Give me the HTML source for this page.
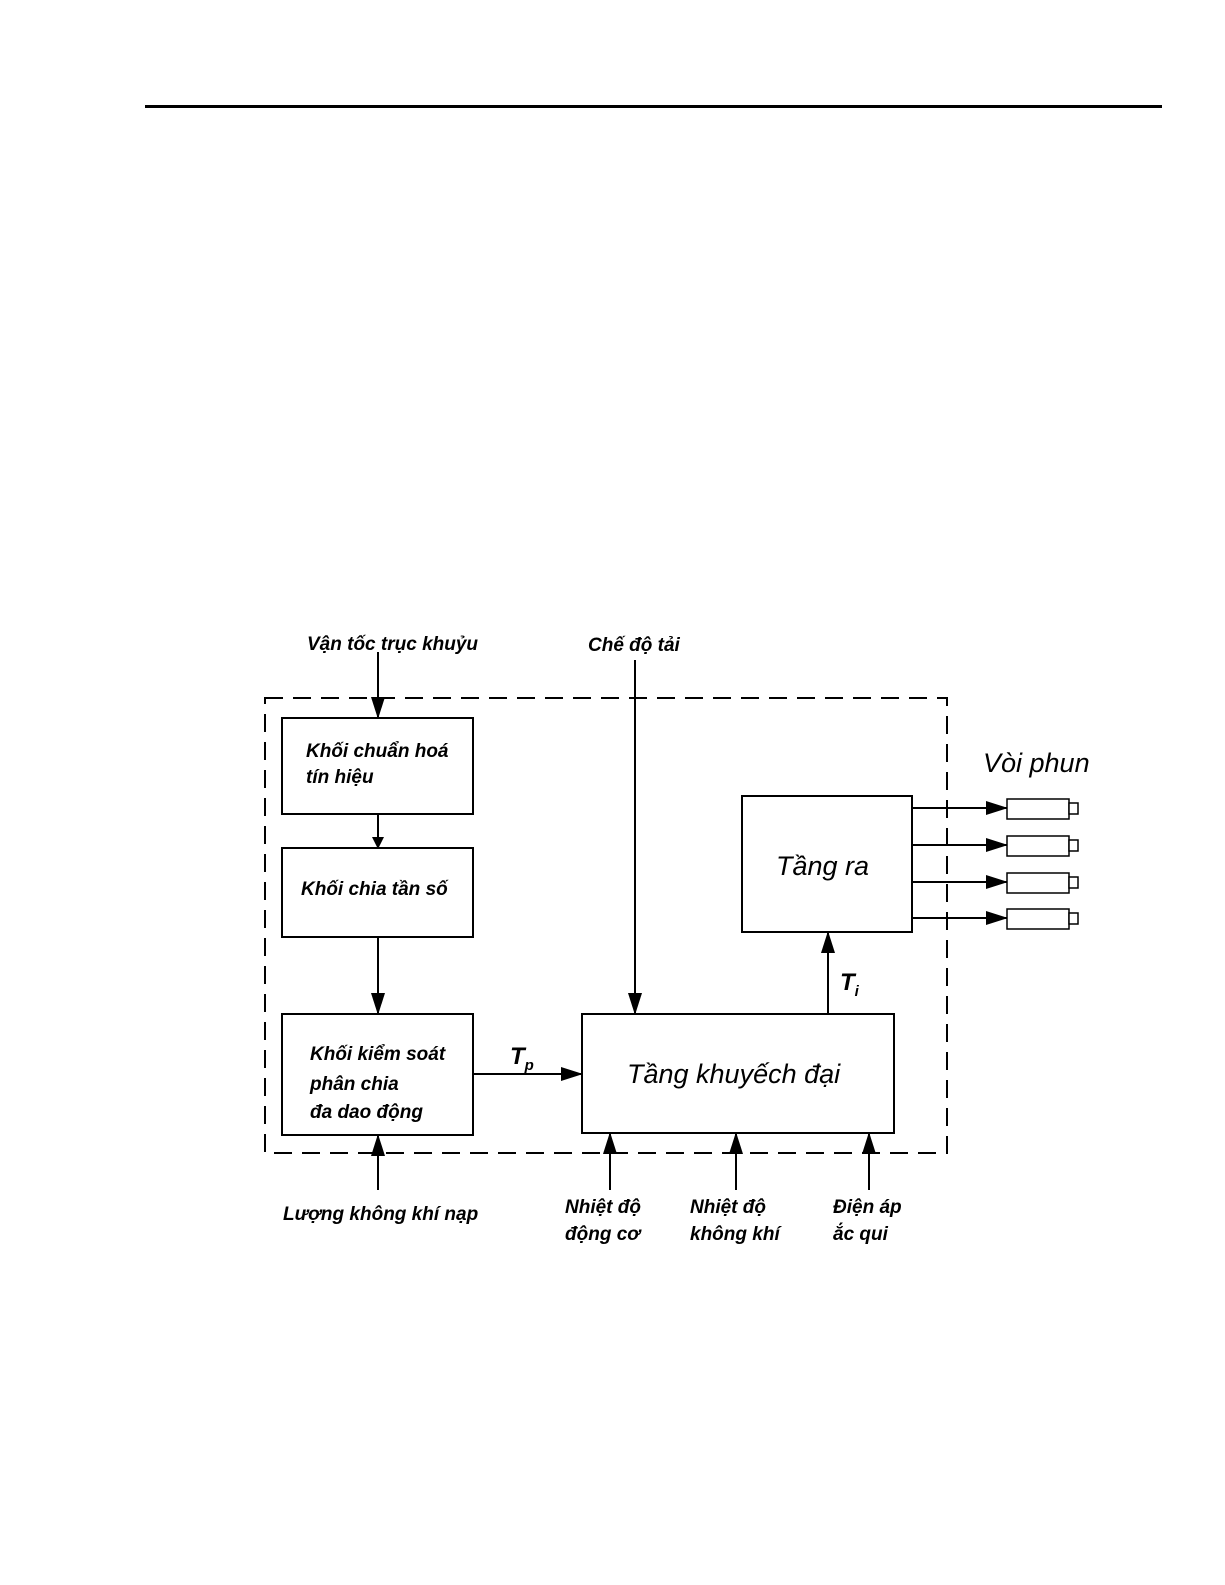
<!DOCTYPE html>
<html><head><meta charset="utf-8"><style>
html,body{margin:0;padding:0;background:#fff}
svg{display:block}
text{font-family:"Liberation Sans",sans-serif;font-style:italic;fill:#000}
.s{font-size:19px;font-weight:bold;letter-spacing:0px}
.b{font-size:27px}
</style></head><body>
<svg width="1225" height="1585" viewBox="0 0 1225 1585" xmlns="http://www.w3.org/2000/svg">
<defs>
<marker id="a" markerWidth="12" markerHeight="12" refX="11" refY="6" orient="auto" markerUnits="userSpaceOnUse">
<path d="M0,0 L12,6 L0,12 z" fill="#000"/></marker>
<marker id="a2" markerWidth="22" markerHeight="14" refX="21" refY="7" orient="auto" markerUnits="userSpaceOnUse">
<path d="M0,0 L22,7 L0,14 z" fill="#000"/></marker>
</defs>
<rect x="145" y="105" width="1017" height="3" fill="#000"/>
<rect x="265" y="698" width="682" height="455" fill="none" stroke="#000" stroke-width="2" stroke-dasharray="18,10"/>
<g fill="none" stroke="#000" stroke-width="2">
<rect x="282" y="718" width="191" height="96"/>
<rect x="282" y="848" width="191" height="89"/>
<rect x="282" y="1014" width="191" height="121"/>
<rect x="582" y="1014" width="312" height="119"/>
<rect x="742" y="796" width="170" height="136"/>
</g>
<g stroke="#000" stroke-width="2">
<line x1="378" y1="652" x2="378" y2="718" marker-end="url(#a2)"/>
<line x1="378" y1="814" x2="378" y2="848" marker-end="url(#a)"/>
<line x1="378" y1="937" x2="378" y2="1014" marker-end="url(#a2)"/>
<line x1="378" y1="1190" x2="378" y2="1135" marker-end="url(#a2)"/>
<line x1="635" y1="660" x2="635" y2="1014" marker-end="url(#a2)"/>
<line x1="473" y1="1074" x2="582" y2="1074" marker-end="url(#a2)"/>
<line x1="828" y1="1014" x2="828" y2="932" marker-end="url(#a2)"/>
<line x1="610" y1="1190" x2="610" y2="1133" marker-end="url(#a2)"/>
<line x1="736" y1="1190" x2="736" y2="1133" marker-end="url(#a2)"/>
<line x1="869" y1="1190" x2="869" y2="1133" marker-end="url(#a2)"/>
<line x1="912" y1="808" x2="1007" y2="808" marker-end="url(#a2)"/>
<line x1="912" y1="845" x2="1007" y2="845" marker-end="url(#a2)"/>
<line x1="912" y1="882" x2="1007" y2="882" marker-end="url(#a2)"/>
<line x1="912" y1="918" x2="1007" y2="918" marker-end="url(#a2)"/>
</g>
<g fill="#fff" stroke="#000" stroke-width="1.5">
<rect x="1007" y="799" width="62" height="20"/><rect x="1069" y="803" width="9" height="11"/>
<rect x="1007" y="836" width="62" height="20"/><rect x="1069" y="840" width="9" height="11"/>
<rect x="1007" y="873" width="62" height="20"/><rect x="1069" y="877" width="9" height="11"/>
<rect x="1007" y="909" width="62" height="20"/><rect x="1069" y="913" width="9" height="11"/>
</g>
<text class="s" x="307" y="650">Vận tốc trục khuỷu</text>
<text class="s" x="588" y="651">Chế độ tải</text>
<text class="s" x="306" y="757">Khối chuẩn hoá</text>
<text class="s" x="306" y="783">tín hiệu</text>
<text class="s" x="301" y="895">Khối chia tần số</text>
<text class="s" x="310" y="1060">Khối kiểm soát</text>
<text class="s" x="310" y="1090">phân chia</text>
<text class="s" x="310" y="1118">đa dao động</text>
<text class="s" x="283" y="1220">Lượng không khí nạp</text>
<text class="s" x="565" y="1213">Nhiệt độ</text>
<text class="s" x="565" y="1240">động cơ</text>
<text class="s" x="690" y="1213">Nhiệt độ</text>
<text class="s" x="690" y="1240">không khí</text>
<text class="s" x="833" y="1213">Điện áp</text>
<text class="s" x="833" y="1240">ắc qui</text>
<text class="b" x="627" y="1083">Tầng khuyếch đại</text>
<text class="b" x="776" y="875">Tầng ra</text>
<text class="b" x="983" y="772">Vòi phun</text>
<text x="510" y="1064" style="font-size:24px;font-weight:bold">T<tspan dy="6" style="font-size:15px">p</tspan></text>
<text x="840" y="990" style="font-size:24px;font-weight:bold">T<tspan dy="6" style="font-size:15px">i</tspan></text>
</svg>
</body></html>
